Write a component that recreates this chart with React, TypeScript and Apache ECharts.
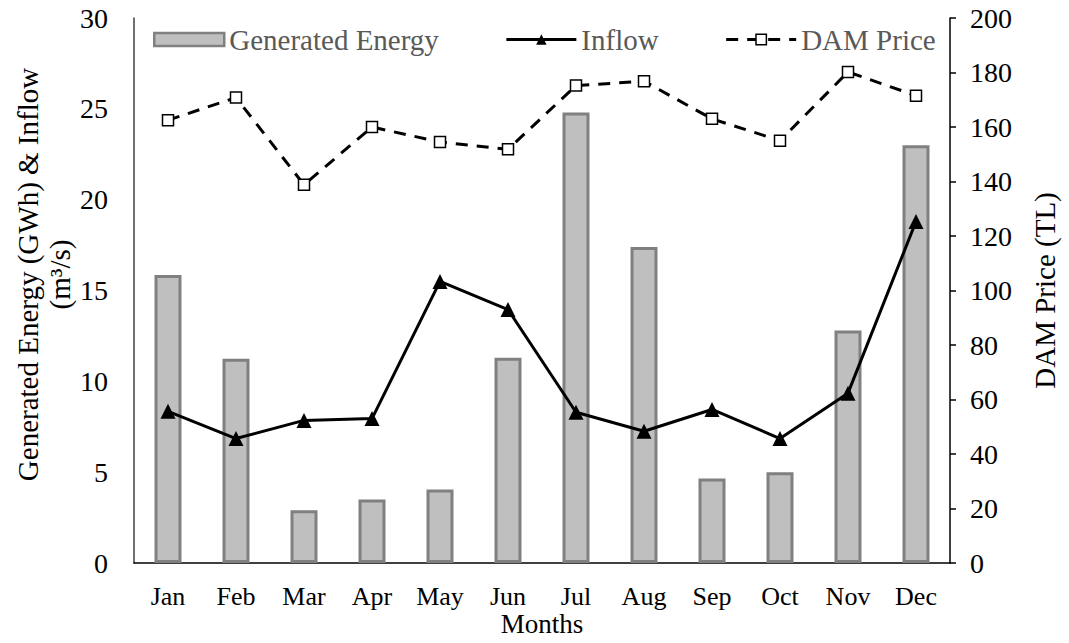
import React, { useEffect, useRef } from "react";
import * as echarts from "echarts";

const months = ["Jan", "Feb", "Mar", "Apr", "May", "Jun", "Jul", "Aug", "Sep", "Oct", "Nov", "Dec"];
const generatedEnergy = [15.85, 11.25, 2.9, 3.5, 4.05, 11.3, 24.8, 17.4, 4.65, 5.0, 12.8, 23.0];
const inflow = [8.35, 6.85, 7.85, 7.95, 15.5, 13.95, 8.3, 7.25, 8.45, 6.85, 9.35, 18.8];
const damPrice = [162.5, 170.8, 138.8, 160.0, 154.5, 151.8, 175.2, 176.8, 163.0, 155.0, 180.2, 171.5];

const leftTicks = { min: 0, max: 30, interval: 5 };
const rightTicks = { min: 0, max: 200, interval: 20 };

const FONT = "'Liberation Serif', 'Times New Roman', serif";

export default function App() {
  const ref = useRef<HTMLDivElement>(null);

  useEffect(() => {
    if (!ref.current) return;
    const chart = echarts.init(ref.current, null, { renderer: "svg" });
    chart.setOption({
      animation: false,
      backgroundColor: "#ffffff",
      textStyle: { fontFamily: FONT },
      grid: {
        left: 134,
        right: 119,
        top: 18,
        bottom: 80,
        containLabel: false,
        outerBoundsMode: "none",
      },
      legend: {
        left: 148,
        top: 20,
        itemWidth: 70,
        itemHeight: 13,
        itemGap: 66,
        itemTextGap: 6,
        lineStyle: { width: 3 },
        textStyle: { fontFamily: FONT, fontSize: 29, color: "#595959" },
        data: [
          { name: "Generated Energy", icon: "rect", itemStyle: { borderWidth: 2.5 } },
          { name: "Inflow" },
          { name: "DAM Price", itemStyle: { borderWidth: 1.5 } },
        ],
      },
      xAxis: {
        type: "category",
        data: months,
        boundaryGap: true,
        name: "Months",
        nameLocation: "middle",
        nameGap: 47,
        nameMoveOverlap: false,
        nameTextStyle: { fontFamily: FONT, fontSize: 27, color: "#000", lineHeight: 27 },
        axisLine: { lineStyle: { color: "#000", width: 1.5 } },
        axisTick: { show: false },
        axisLabel: {
          fontFamily: FONT,
          fontSize: 26,
          lineHeight: 26,
          color: "#000",
          margin: 20,
          interval: 0,
        },
        splitLine: { show: false },
      },
      yAxis: [
        {
          type: "value",
          ...leftTicks,
          name: "Generated Energy (GWh) & Inflow\n(m³/s)",
          nameLocation: "middle",
          nameGap: 58,
          nameMoveOverlap: false,
          nameTextStyle: {
            fontFamily: FONT,
            fontSize: 29,
            color: "#000",
            lineHeight: 32,
            align: "center",
            padding: [0, 0, 0, 32],
          },
          axisLine: { show: true, lineStyle: { color: "#404040", width: 1.5 } },
          axisTick: { show: false },
          axisLabel: { fontFamily: FONT, fontSize: 28, color: "#000", margin: 26 },
          splitLine: { show: false },
        },
        {
          type: "value",
          position: "right",
          ...rightTicks,
          name: "DAM Price (TL)",
          nameLocation: "middle",
          nameGap: 80,
          nameMoveOverlap: false,
          nameTextStyle: { fontFamily: FONT, fontSize: 29, color: "#000" },
          axisLine: { show: true, lineStyle: { color: "#000", width: 1.5 } },
          axisTick: { show: true, length: 6, inside: false, lineStyle: { color: "#000", width: 1.5 } },
          axisLabel: { fontFamily: FONT, fontSize: 28, color: "#000", margin: 20 },
          splitLine: { show: false },
        },
      ],
      series: [
        {
          name: "Generated Energy",
          type: "bar",
          yAxisIndex: 0,
          data: generatedEnergy,
          barWidth: 27,
          itemStyle: { color: "#bfbfbf", borderColor: "#808080", borderWidth: 3 },
        },
        {
          name: "Inflow",
          type: "line",
          yAxisIndex: 0,
          data: inflow,
          symbol: "triangle",
          symbolSize: 15,
          itemStyle: { color: "#000" },
          lineStyle: { color: "#000", width: 3 },
        },
        {
          name: "DAM Price",
          type: "line",
          yAxisIndex: 1,
          data: damPrice,
          symbol: "rect",
          symbolSize: 11,
          itemStyle: { color: "#fff", borderColor: "#000", borderWidth: 1.5 },
          lineStyle: { color: "#000", width: 3, type: [12, 9] },
          z: 3,
        },
      ],
    });
    return () => chart.dispose();
  }, []);

  return (
    <div
      ref={ref}
      style={{ position: "fixed", left: 0, top: 0, width: 1069, height: 643, background: "#fff" }}
    />
  );
}
